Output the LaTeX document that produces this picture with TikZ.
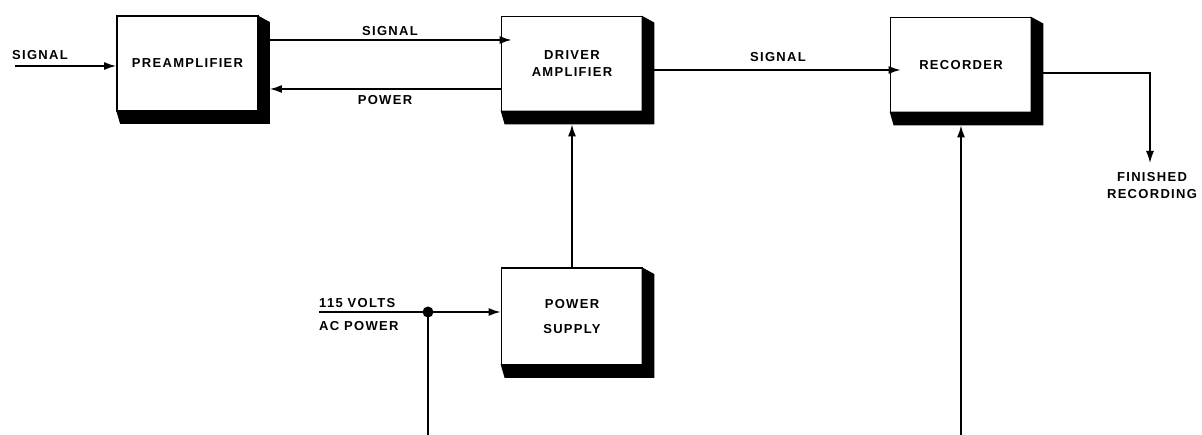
\documentclass[tikz,border=0pt]{standalone}
\usepackage{fontspec}
\setmainfont{Liberation Sans}[LetterSpace=10]
\usetikzlibrary{arrows.meta,calc}
\newcommand\lblfont{\fontsize{13}{17}\selectfont\bfseries}
\tikzset{
  blk/.style={draw, line width=1.8pt, minimum width=141pt, inner sep=0pt, align=center, font=\lblfont, fill=white},
  lbl/.style={inner sep=0pt, font=\lblfont, align=center},
  arr/.style={line width=1.5pt, -{Latex[length=12pt,width=8pt]}},
  ln/.style={line width=1.5pt},
}
\newcommand\boxshade[1]{%
  \fill ($(#1.north east)+(-1.8,0)$) -- ($(#1.north east)+(11,7)$) -- ($(#1.south east)+(11,12)$) -- ($(#1.south west)+(4,12)$) -- ($(#1.south west)+(0,-1.8)$) -- ($(#1.south east)+(-1.8,-1.8)$) -- cycle;}
\begin{document}
\begin{tikzpicture}[x=1pt,y=-1pt]
\useasboundingbox[fill=white] (0,0) rectangle (1202,435);

% blocks
\node[blk, minimum height=95pt] (pre) at (187.5,63.5) {PREAMPLIFIER};
\node[blk, minimum height=95pt] (drv) at (572,64) {DRIVER\\AMPLIFIER};
\node[blk, minimum height=95pt] (rec) at (961,65) {RECORDER};
\node[blk, minimum height=97pt] (ps) at (572,316.5) {POWER\\[8pt]SUPPLY};
\boxshade{pre}
\boxshade{drv}
\boxshade{rec}
\boxshade{ps}

% coordinates
\coordinate (in) at (15,66);
\coordinate (fin) at (1150,163);
\coordinate (acin) at (319,312);
\coordinate (jn) at (428,312);
\coordinate (acdown) at (428,435);
\coordinate (recin) at (961,435);

% connectors
\draw[arr] (in) -- (in -| pre.west);
\draw[arr] ([xshift=11pt,yshift=23.5pt]pre.east) -- ([xshift=11pt,yshift=23.5pt]pre.east -| drv.west);
\draw[arr] ([yshift=-25pt]drv.west) -- ([yshift=-25pt]drv.west -| {$(pre.east)+(11,0)$});
\draw[arr] ([xshift=11pt,yshift=-6pt]drv.east) -- ([xshift=11pt,yshift=-6pt]drv.east -| rec.west);
\draw[arr] ([xshift=11pt,yshift=-8pt]rec.east) -| (fin);
\draw[arr] (ps.north) -- ([yshift=-12pt]drv.south);
\draw[ln] (acin) -- (jn);
\draw[arr] (jn) -- (jn -| ps.west);
\draw[ln] (jn) -- (acdown);
\fill (jn) circle (5.5);
\draw[arr] (recin) -- ([yshift=-12pt]rec.south);

% labels
\node[lbl] (l1) at (40,55) {SIGNAL};
\node[lbl] (l2) at (390,31) {SIGNAL};
\node[lbl] (l3) at (385,100) {POWER};
\node[lbl] (l4) at (778,57) {SIGNAL};
\node[lbl] (l5) at (1152,185.5) {FINISHED\\RECORDING};
\node[lbl, anchor=west] (l6) at (319,303) {115 VOLTS};
\node[lbl, anchor=west] (l7) at (319,326) {AC POWER};
\end{tikzpicture}
\end{document}
